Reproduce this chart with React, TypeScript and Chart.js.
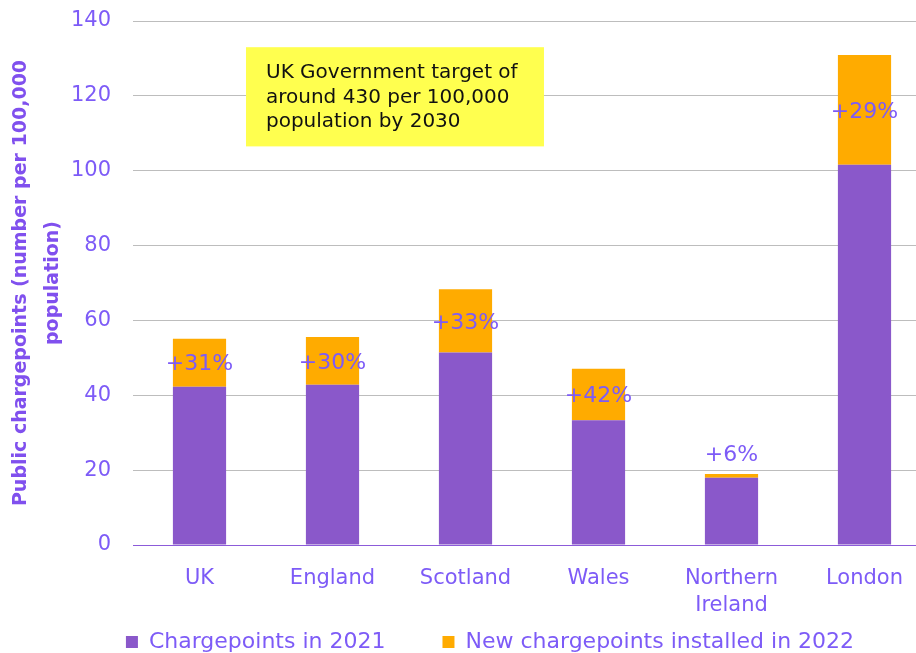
import React, { useEffect, useRef } from "react";
import { Chart, registerables } from "chart.js";

Chart.register(...registerables);

const categories: (string | string[])[] = ["UK", "England", "Scotland", "Wales", ["Northern", "Ireland"], "London"];
const chargepoints2021: number[] = [42.3, 42.8, 51.4, 33.3, 18.0, 101.6];
const newIn2022: number[] = [12.8, 12.8, 16.9, 13.8, 1.0, 29.3];
const growthLabels: string[] = ["+31%", "+30%", "+33%", "+42%", "+6%", "+29%"];
const yTicks: number[] = [0, 20, 40, 60, 80, 100, 120, 140];
const seriesNames: string[] = ["Chargepoints in 2021", "New chargepoints installed in 2022"];
const noteLines: string[] = ["UK Government target of", "around 430 per 100,000", "population by 2030"];

const PURPLE = "#8A58CA";
const ORANGE = "#FFAB00";
const TEXT_PURPLE = "#7D5BF7";
const FONT = "'DejaVu Sans', sans-serif";

const CANVAS_W = 980;
const CANVAS_H = 706;

export default function App() {
  const ref = useRef<HTMLCanvasElement | null>(null);

  useEffect(() => {
    document.body.style.overflow = "hidden";
    const canvas = ref.current;
    if (!canvas) return;

    const labelPlugin = {
      id: "growthLabels",
      afterDatasetsDraw(chart: any) {
        const ctx = chart.ctx;
        const meta = chart.getDatasetMeta(1);
        ctx.save();
        ctx.font = `22px ${FONT}`;
        ctx.fillStyle = TEXT_PURPLE;
        ctx.textAlign = "center";
        ctx.textBaseline = "middle";
        meta.data.forEach((el: any, i: number) => {
          const h = el.base - el.y;
          const y = h < 15 ? el.y - 19 : (el.y + el.base) / 2 + 2;
          ctx.fillText(growthLabels[i], el.x, y);
        });
        ctx.restore();
      },
    };

    const notePlugin = {
      id: "noteBox",
      afterDatasetsDraw(chart: any) {
        const ctx = chart.ctx;
        const area = chart.chartArea;
        const ys = chart.scales.y;
        const w = area.right - area.left;
        const left = area.left + w * 0.1416;
        const right = area.left + w * 0.515;
        const top = ys.getPixelForValue(133);
        const bottom = ys.getPixelForValue(106.5);
        ctx.save();
        ctx.fillStyle = "#FFFF4F";
        ctx.fillRect(left, top, right - left, bottom - top);
        ctx.fillStyle = "#111111";
        ctx.font = `20px ${FONT}`;
        ctx.textAlign = "left";
        ctx.textBaseline = "middle";
        noteLines.forEach((line, i) => {
          ctx.fillText(line, left + 20, top + 26 + i * 24.5);
        });
        ctx.restore();
      },
    };

    // legend sits closer to the axis labels than Chart.js' wide item padding would allow
    const legendShift = {
      id: "legendShift",
      afterLayout(chart: any) {
        const lg = chart.legend;
        if (lg) {
          lg.top -= 43;
          lg.bottom -= 43;
        }
      },
    };

    const chart = new Chart(canvas, {
      type: "bar",
      data: {
        labels: categories,
        datasets: [
          {
            label: seriesNames[0],
            data: chargepoints2021,
            backgroundColor: PURPLE,
            barPercentage: 0.4,
            categoryPercentage: 1,
          },
          {
            label: seriesNames[1],
            data: newIn2022,
            backgroundColor: ORANGE,
            barPercentage: 0.4,
            categoryPercentage: 1,
          },
        ],
      },
      options: {
        responsive: false,
        animation: false,
        layout: { padding: { top: 21, left: 0, right: 0, bottom: 0 } },
        plugins: {
          tooltip: { enabled: false },
          legend: {
            position: "bottom",
            labels: {
              color: TEXT_PURPLE,
              font: { family: FONT, size: 22 },
              boxWidth: 12,
              boxHeight: 12,
              padding: 57,
            },
          },
        },
        scales: {
          x: {
            stacked: true,
            afterFit: (scale: any) => {
              scale.height = 72;
            },
            grid: { display: false, drawTicks: false },
            border: { display: true, color: "#8C5BD9", width: 1 },
            ticks: {
              color: TEXT_PURPLE,
              font: { family: FONT, size: 21, lineHeight: 1.3 },
              padding: 20,
              maxRotation: 0,
              autoSkip: false,
            },
          },
          y: {
            stacked: true,
            min: 0,
            max: 140,
            afterFit: (scale: any) => {
              scale.width = 133;
              scale.paddingTop = 0;
              scale.paddingBottom = 0;
            },
            afterBuildTicks: (scale: any) => {
              scale.ticks = yTicks.map((v) => ({ value: v }));
            },
            border: { display: false },
            grid: {
              drawTicks: false,
              color: (c: any) => (c.tick && c.tick.value === 0 ? "#8C5BD9" : "#BDBDBD"),
              lineWidth: 1,
            },
            ticks: {
              color: TEXT_PURPLE,
              font: { family: FONT, size: 21 },
              padding: 22,
            },
            title: {
              display: true,
              text: ["Public chargepoints (number per 100,000", "population)"],
              color: "#8050EE",
              font: { family: FONT, size: 19, weight: "bold", lineHeight: 1.68 },
              padding: { top: 5, bottom: 0 },
            },
          },
          yRight: {
            position: "right",
            display: true,
            afterFit: (scale: any) => {
              scale.width = 49;
              scale.paddingTop = 0;
              scale.paddingBottom = 0;
            },
            grid: { display: false, drawTicks: false },
            border: { display: false },
            ticks: { display: false },
          },
        },
      },
      plugins: [labelPlugin, notePlugin, legendShift],
    } as any);

    return () => chart.destroy();
  }, []);

  return (
    <div style={{ position: "fixed", left: 0, top: 0, width: CANVAS_W, height: CANVAS_H, background: "#ffffff" }}>
      <canvas ref={ref} width={CANVAS_W} height={CANVAS_H} />
    </div>
  );
}
